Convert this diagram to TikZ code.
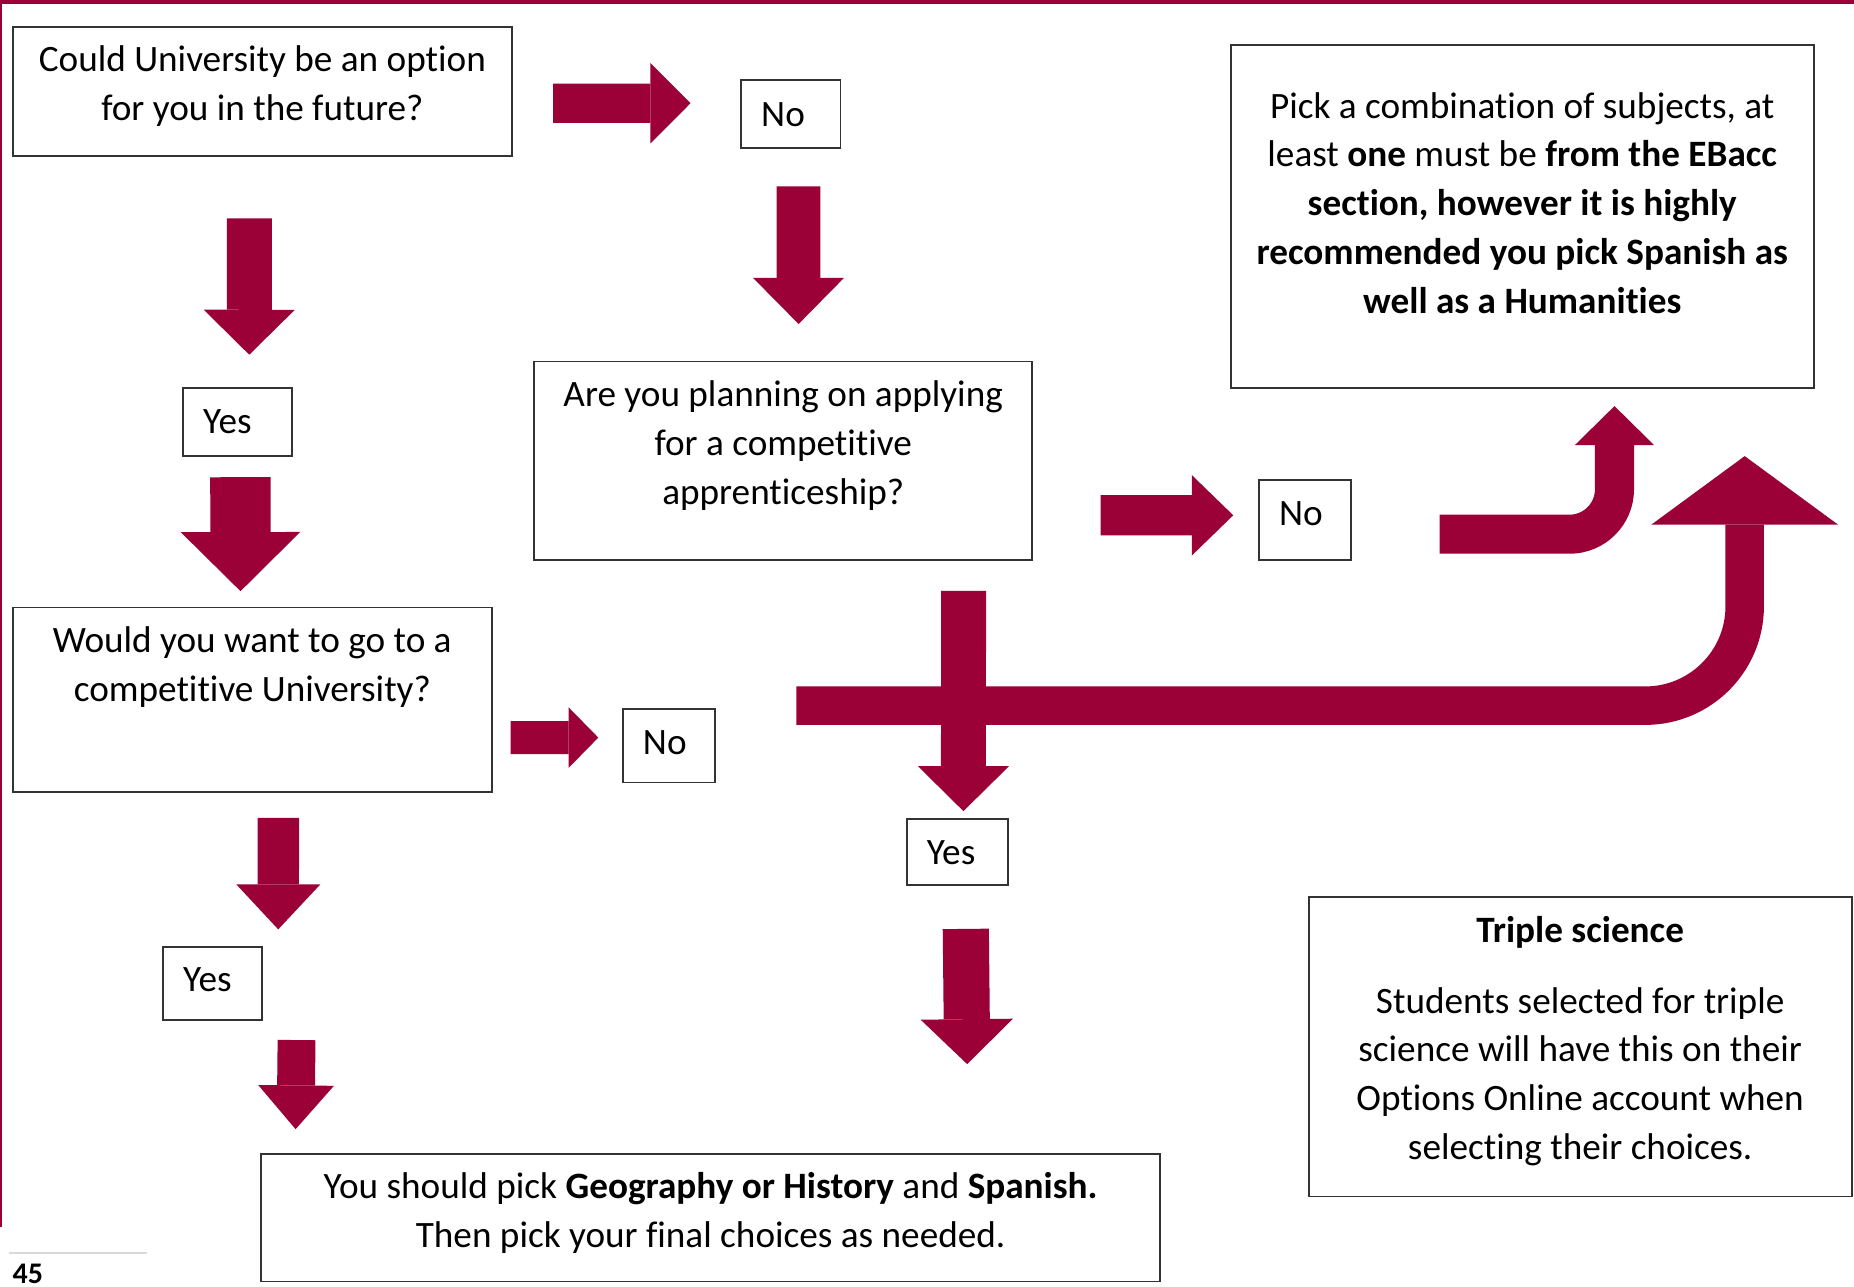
\documentclass[tikz,border=0pt]{standalone}
\usepackage{fontspec}
\setmainfont{Carlito}[Ligatures={NoCommon,NoContextual}, Contextuals=NoAlternate]
\usetikzlibrary{arrows.meta,calc}
\definecolor{crimson}{RGB}{155,0,54}
\tikzset{
	frame/.style={draw=black!80, line width=.45pt, anchor=north west, inner ysep=0pt},
	box/.style={frame, inner xsep=.02cm, align=center,
		execute at begin node={\frenchspacing\spaceskip=0pt\xspaceskip=0pt\leftskip=0pt plus 1fil\rightskip=0pt plus 1fil\relax}},
	tag/.style={frame, inner xsep=.17cm, align=left},
	flow/.style n args={3}{draw=crimson, line width=#1, -{Triangle[length=#3 0, width=#2 0, line width=0pt]}},
}
\begin{document}
\begin{tikzpicture}[x=.01cm, y=-.01cm, font=\fontsize{8.95}{11.75}\selectfont]
	\useasboundingbox (0,0) rectangle (1568,1088);
	\fill[crimson] (0,0) rectangle (1568,3.4);
	\fill[crimson] (0,0) rectangle (1.7,1038);
	\draw[black!15, line width=.5pt] (8,1060) -- (124,1060);
	\node[font=\bfseries\fontsize{7.2}{8}\selectfont, anchor=west, inner sep=0pt] (pagenum) at (10,1077) {45};

	\node[box, text width=4.18cm, text height=.38cm, text depth=.71cm] (q1) at (10,22) {Could University be an option\\for you in the future?};
	\node[tag, text width=.50cm, text height=.39cm, text depth=.18cm] (no1) at (626,67) {No};
	\node[tag, text width=.58cm, text height=.39cm, text depth=.19cm] (yes1) at (154,327) {Yes};
	\node[box, text width=4.17cm, text height=.38cm, text depth=1.30cm] (qapp) at (451,305) {Are you planning on applying\\for a competitive\\apprenticeship?};
	\node[tag, text width=.44cm, text height=.39cm, text depth=.29cm] (no2) at (1064,405) {No};
	\node[box, text width=4.01cm, text height=.38cm, text depth=1.18cm] (qcomp) at (10,513) {Would you want to go to a\\competitive University?};
	\node[tag, text width=.44cm, text height=.38cm, text depth=.24cm] (no3) at (526,599) {No};
	\node[tag, text width=.52cm, text height=.38cm, text depth=.18cm] (yes2) at (766,692) {Yes};
	\node[tag, text width=.50cm, text height=.38cm, text depth=.24cm] (yes3) at (137,800) {Yes};
	\node[box, text width=7.56cm, text height=.38cm, text depth=.70cm] (final) at (220,975) {You should pick \textbf{Geography or History} and \textbf{Spanish.}\\Then pick your final choices as needed.};
	\node[box, text width=4.89cm, text height=.62cm, text depth=2.28cm] (ebacc) at (1040,37) {Pick a combination of subjects, at\\least \textbf{one} must be \textbf{from the EBacc}\\\textbf{section, however it is highly}\\\textbf{recommended you pick Spanish as}\\\textbf{well as a Humanities}};
	\node[box, text width=4.55cm, text height=.38cm, text depth=2.15cm] (triple) at (1106,758) {\textbf{Triple science}\\[5.3pt]Students selected for triple\\science will have this on their\\Options Online account when\\selecting their choices.};

	\draw[flow={3.3mm}{6.8mm}{3.4mm}] ($(q1.east)+(34,10)$) -- ($(no1.west)+(-42,-9)$);
	\draw[flow={3.8mm}{7.7mm}{3.8mm}] ($(q1.south)+(-11,52)$) -- ($(yes1.north)+(10,-27)$);
	\draw[flow={3.7mm}{7.7mm}{3.9mm}] ($(no1.south)+(6.5,32)$) -- ($(qapp.north)+(13,-31)$);
	\draw[flow={5.1mm}{10.1mm}{5mm}] ($(yes1.south)+(2.5,17)$) -- ($(qcomp.north)+(-10,-13)$);
	\draw[flow={3.4mm}{6.8mm}{3.5mm}] ($(qapp.east)+(57,46)$) -- ($(no2.west)+(-21,-4)$);
	\draw[flow={2.8mm}{5.1mm}{2.5mm}] ($(qcomp.east)+(15,32)$) -- ($(no3.west)+(-20,-7)$);
	\draw[flow={3.5mm}{7.1mm}{3.8mm}] ($(qcomp.south)+(22,21)$) -- ($(yes3.north)+(55.5,-14)$);
	\draw[flow={3.2mm}{6.4mm}{3.7mm}] ($(yes3.south)+(71,16)$) -- ($(final.north west)+(30,-20)$);
	\draw[flow={3.3mm}{6.7mm}{3.3mm}, rounded corners=.38cm] ($(no2.east)+(74,12)$) -| ($(ebacc.south)+(78,14.7)$);
	\draw[flow={3.25mm}{15.8mm}{5.8mm}, rounded corners=.84cm] ($(no3.east)+(68,-34)$) -| ($(ebacc.south east)+(-59.3,57)$);
	\draw[flow={3.8mm}{7.7mm}{3.8mm}] ($(qapp.south)+(152.5,25)$) -- ($(yes2.north)+(5,-6)$);
	\draw[flow={3.9mm}{7.8mm}{3.8mm}] ($(yes2.south)+(7,36)$) -- ($(final.north east)+(-164,-75)$);
\end{tikzpicture}
\end{document}
